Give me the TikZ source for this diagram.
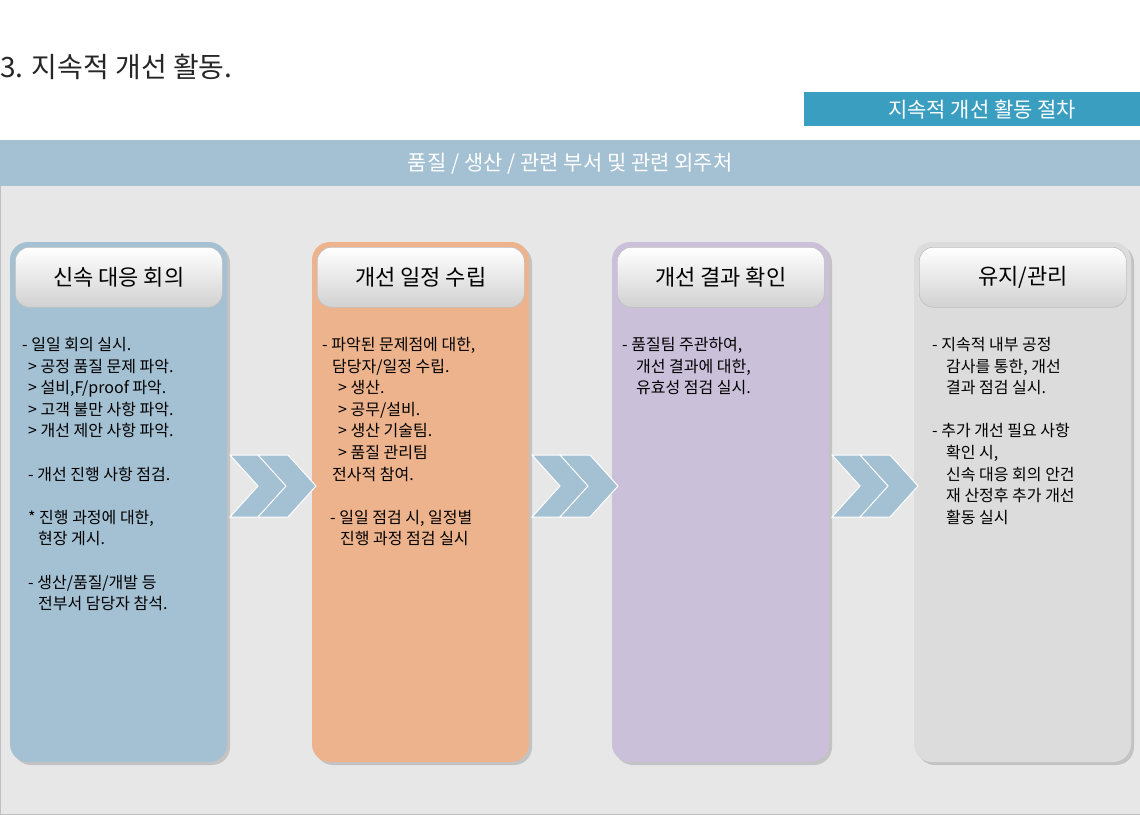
\documentclass[tikz,border=0pt]{standalone}
\usepackage{fontspec}
\setmainfont{Noto Sans CJK KR}
\usetikzlibrary{shadows}
\definecolor{cblue}{HTML}{A4C0D3}
\definecolor{corange}{HTML}{EDB38C}
\definecolor{clav}{HTML}{CBC0DA}
\definecolor{cgray}{HTML}{DCDCDC}
\definecolor{teal1}{HTML}{3A9EC0}
\definecolor{panel}{HTML}{E7E7E7}
\begin{document}
\begin{tikzpicture}[x=1pt,y=-1pt,
  col/.style={rounded corners=18pt,drop shadow={shadow xshift=3pt,shadow yshift=-3pt,opacity=.35}},
  tab/.style={rounded corners=14pt,top color=white,bottom color=black!18,draw=black!25,line width=.6pt,font=\fontsize{22}{26}\selectfont},
  body/.style={anchor=north west,inner sep=0pt,align=left,font=\fontsize{16}{21.6}\selectfont},
  chev/.style={fill=cblue,draw=white,line width=1pt}]
\useasboundingbox (0,0) rectangle (1140,814);
\fill[white] (0,0) rectangle (1140,814);
\node[anchor=west,inner sep=0pt,font=\fontsize{28}{32}\selectfont,text=black!85] (title) at (0,67) {3. 지속적 개선 활동.};
\node[fill=teal1,text=white,minimum width=336pt,minimum height=34pt,inner sep=0pt,anchor=north west,font=\fontsize{21}{24}\selectfont] (proc) at (804,92) {\hspace*{20pt}지속적 개선 활동 절차};
\fill[panel,draw=black!25] (0,140) rectangle (1140,814);
\node[fill=cblue,minimum width=1140pt,minimum height=46pt,inner sep=0pt,anchor=north west,text=white,font=\fontsize{21}{24}\selectfont] (hdr) at (0,140) {품질 / 생산 / 관련 부서 및 관련 외주처};
% columns
\foreach \x/\c in {10/cblue,312/corange,612/clav,914/cgray}{
  \fill[\c,col] (\x,242) rectangle ++(217,520);
}
\node[tab,minimum width=207pt,minimum height=60pt,anchor=north west] (t1) at (15,247) {신속 대응 회의};
\node[tab,minimum width=207pt,minimum height=60pt,anchor=north west] (t2) at (317,247) {개선 일정 수립};
\node[tab,minimum width=207pt,minimum height=60pt,anchor=north west] (t3) at (617,247) {개선 결과 확인};
\node[tab,minimum width=207pt,minimum height=60pt,anchor=north west] (t4) at (919,247) {유지/관리};
% chevrons
\foreach \x in {230,532,832}{
  \draw[chev] (\x,455) -- ++(30,0) -- ++(28,31) -- ++(-28,31) -- ++(-30,0) -- ++(28,-31) -- cycle;
  \draw[chev] (\x+28,455) -- ++(30,0) -- ++(28,31) -- ++(-28,31) -- ++(-30,0) -- ++(28,-31) -- cycle;
}
% body texts
\node[body] (b1) at (22,337) {- 일일 회의 실시.\\
\hspace*{6pt}> 공정 품질 문제 파악.\\
\hspace*{6pt}> 설비,F/proof 파악.\\
\hspace*{6pt}> 고객 불만 사항 파악.\\
\hspace*{6pt}> 개선 제안 사항 파악.\\[21.6pt]
\hspace*{6pt}- 개선 진행 사항 점검.\\[21.6pt]
\hspace*{6pt}* 진행 과정에 대한,\\
\hspace*{16pt}현장 게시.\\[21.6pt]
\hspace*{6pt}- 생산/품질/개발 등\\
\hspace*{16pt}전부서 담당자 참석.};
\node[body] (b2) at (322,337) {- 파악된 문제점에 대한,\\
\hspace*{10pt}담당자/일정 수립.\\
\hspace*{16pt}> 생산.\\
\hspace*{16pt}> 공무/설비.\\
\hspace*{16pt}> 생산 기술팀.\\
\hspace*{16pt}> 품질 관리팀\\
\hspace*{10pt}전사적 참여.\\[21.6pt]
\hspace*{8pt}- 일일 점검 시, 일정별\\
\hspace*{18pt}진행 과정 점검 실시};
\node[body] (b3) at (622,337) {- 품질팀 주관하여,\\
\hspace*{14pt}개선 결과에 대한,\\
\hspace*{14pt}유효성 점검 실시.};
\node[body] (b4) at (932,337) {- 지속적 내부 공정\\
\hspace*{14pt}감사를 통한, 개선\\
\hspace*{14pt}결과 점검 실시.\\[21.6pt]
- 추가 개선 필요 사항\\
\hspace*{14pt}확인 시,\\
\hspace*{14pt}신속 대응 회의 안건\\
\hspace*{14pt}재 산정후 추가 개선\\
\hspace*{14pt}활동 실시};
\end{tikzpicture}
\end{document}
